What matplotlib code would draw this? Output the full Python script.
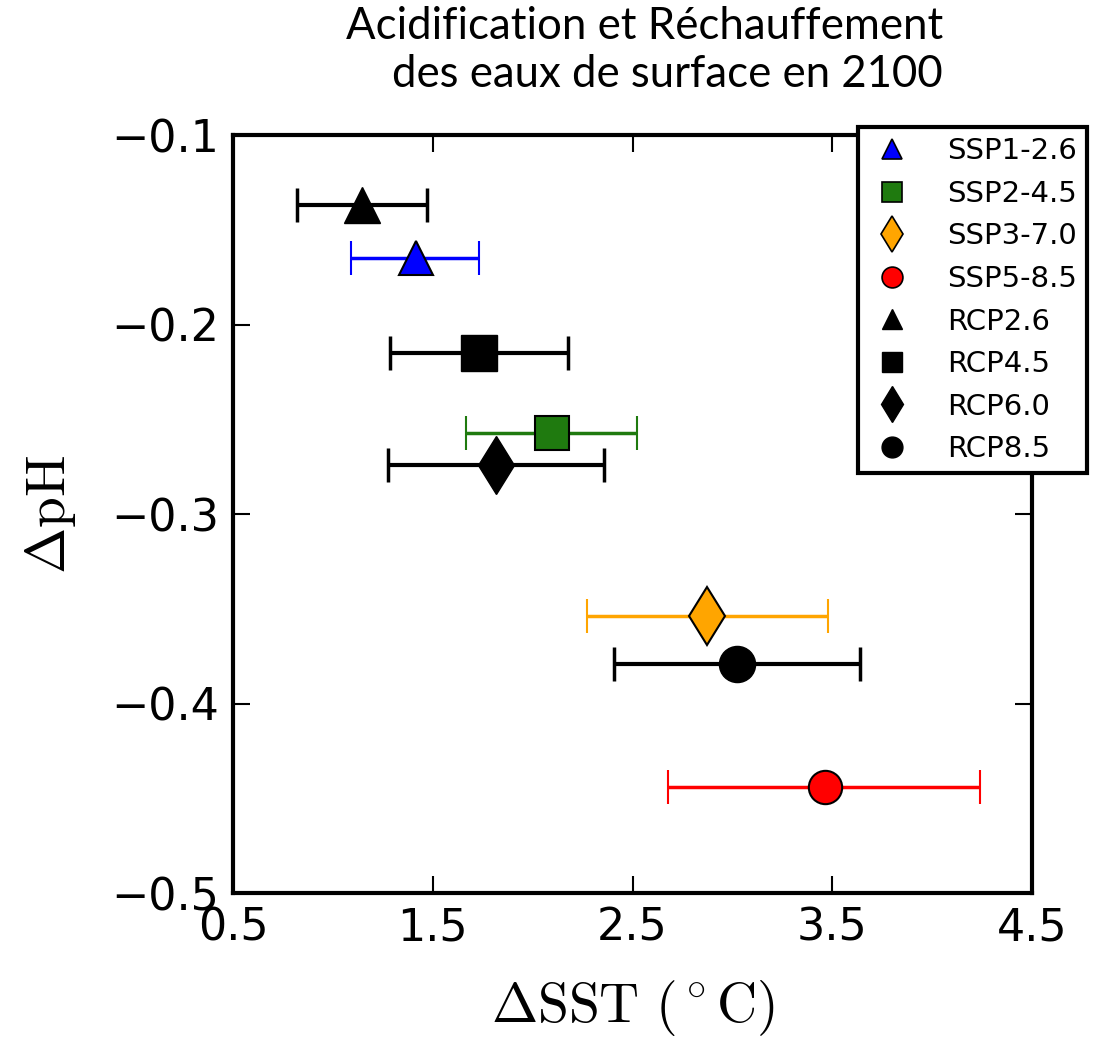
import matplotlib
matplotlib.use("Agg")
import matplotlib.pyplot as plt
from matplotlib.lines import Line2D

# --- data ---
ssp_names = ["SSP1-2.6", "SSP2-4.5", "SSP3-7.0", "SSP5-8.5"]
ssp_sst = [1.415, 2.095, 2.875, 3.465]
ssp_sst_lo = [1.09, 1.665, 2.27, 2.68]
ssp_sst_hi = [1.73, 2.52, 3.48, 4.24]
ssp_ph = [-0.165, -0.257, -0.354, -0.444]

rcp_names = ["RCP2.6", "RCP4.5", "RCP6.0", "RCP8.5"]
rcp_sst = [1.145, 1.73, 1.815, 3.025]
rcp_sst_lo = [0.82, 1.285, 1.275, 2.405]
rcp_sst_hi = [1.47, 2.175, 2.355, 3.64]
rcp_ph = [-0.137, -0.215, -0.274, -0.379]

markers = ["^", "s", "d", "o"]
ssp_colors = ["blue", "#1f7a0f", "orange", "red"]

fig = plt.figure(figsize=(11.18, 10.4), dpi=100)
ax = fig.add_axes([0.2084, 0.1413, 0.7147, 0.7288])

# RCP (black) first, SSP on top
for i in range(4):
    m = markers[i]
    ms = 30 if m == "d" else 26
    xerr = [[rcp_sst[i] - rcp_sst_lo[i]], [rcp_sst_hi[i] - rcp_sst[i]]]
    ax.errorbar([rcp_sst[i]], [rcp_ph[i]], xerr=xerr, fmt=m, color="black",
                ms=ms, mec="black", elinewidth=3, capsize=12, capthick=2.5, zorder=3)

for i in range(4):
    m = markers[i]
    ms = 30 if m == "d" else 24
    xerr = [[ssp_sst[i] - ssp_sst_lo[i]], [ssp_sst_hi[i] - ssp_sst[i]]]
    ax.errorbar([ssp_sst[i]], [ssp_ph[i]], xerr=xerr, fmt=m, color=ssp_colors[i],
                mfc=ssp_colors[i], mec="black", mew=1.5, ms=ms, ecolor=ssp_colors[i],
                elinewidth=2.5, capsize=12, capthick=2, zorder=4)

ax.set_xlim(0.5, 4.5)
ax.set_ylim(-0.5, -0.1)
ax.set_xticks([0.5, 1.5, 2.5, 3.5, 4.5])
ax.set_yticks([-0.5, -0.4, -0.3, -0.2, -0.1])
ax.tick_params(direction="in", length=12, width=1.5, labelsize=32, top=True, right=True, pad=10)
for s in ax.spines.values():
    s.set_linewidth(3)

ax.set_xlabel(r"$\Delta\mathrm{SST}\ (^\circ\mathrm{C})$", fontsize=40, math_fontfamily="cm", labelpad=20)
ax.set_ylabel(r"$\Delta\mathrm{pH}$", fontsize=40, math_fontfamily="cm", labelpad=24)

# legend with marker-only proxies
handles = []
for i in range(4):
    handles.append(Line2D([], [], ls="none", marker=markers[i], ms=18 if markers[i] == "d" else 15,
                          mfc=ssp_colors[i], mec="black", mew=1.2, label=ssp_names[i]))
for i in range(4):
    handles.append(Line2D([], [], ls="none", marker=markers[i], ms=18 if markers[i] == "d" else 15,
                          mfc="black", mec="black", label=rcp_names[i]))
leg = fig.legend(handles=handles, loc="upper left", bbox_to_anchor=(858 / 1118, 1 - 127 / 1040),
                 fontsize=21, frameon=True, fancybox=False, edgecolor="black", framealpha=1,
                 handlelength=1.6, handletextpad=1.1, labelspacing=0.5, borderpad=0.35,
                 borderaxespad=0)
leg.get_frame().set_linewidth(3)

fig.text(943 / 1118, 1 - 6 / 1040, "Acidification et Réchauffement\ndes eaux de surface en 2100",
         ha="right", va="top", ma="right", fontsize=31.5, family="Lato", linespacing=1.2)

fig.savefig("out.png", dpi=100)
